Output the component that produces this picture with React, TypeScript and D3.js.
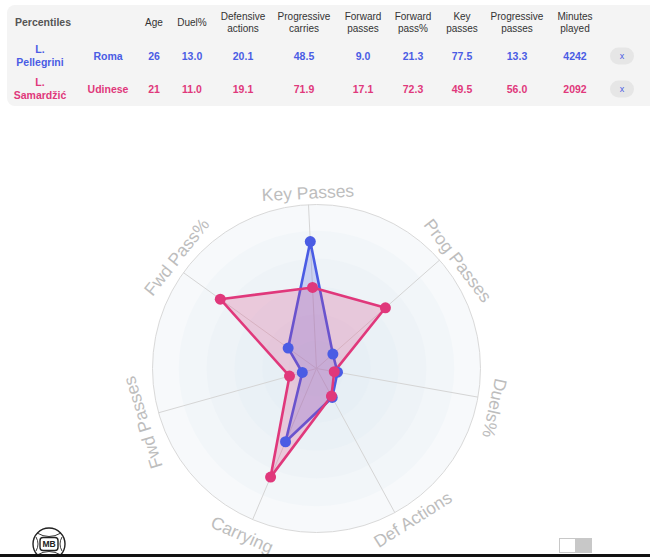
import React from "react";
import * as d3 from "d3";

const axes = ["Key Passes", "Prog Passes", "Duels%", "Def Actions", "Carrying", "Fwd Passes", "Fwd Pass%"];
const pellegrini = [77.5, 13.3, 13.0, 20.1, 48.5, 9.0, 21.3];
const samardzic = [49.5, 56.0, 11.0, 19.1, 71.9, 17.1, 72.3];

const headers = [["Age"], ["Duel%"], ["Defensive", "actions"], ["Progressive", "carries"], ["Forward", "passes"], ["Forward", "pass%"], ["Key", "passes"], ["Progressive", "passes"], ["Minutes", "played"]];
const headerX = [154, 192, 243, 304, 363, 413, 462, 517, 575];
const rowNames = [["L.", "Pellegrini"], ["L.", "Samardžić"]];
const rowTeams = ["Roma", "Udinese"];
const rowValues = [
  ["26", "13.0", "20.1", "48.5", "9.0", "21.3", "77.5", "13.3", "4242"],
  ["21", "11.0", "19.1", "71.9", "17.1", "72.3", "49.5", "56.0", "2092"],
];

const BLUE = "#4a5ce4";
const PINK = "#e0387b";
const FONT = "'Liberation Sans', Arial, Helvetica, sans-serif";

// label placement tweaks (angle shift in degrees, radius in % of scale)
const labelShift = [0, 4, 2.5, -4, 1.2, -1.6, 2.8];
const labelRadius = [107.3, 108.5, 111.3, 109.1, 111, 111, 109.1];

export default function App() {
  const cx = 316.5, cy = 368.5, R = 164;
  const offset = -2.8;
  const n = axes.length;
  const r = d3.scaleLinear().domain([0, 100]).range([0, R]);
  const angDeg = (i: number) => offset + (i * 360) / n;
  const pt = (i: number, v: number, extraDeg = 0) => {
    const a = ((angDeg(i) + extraDeg) * Math.PI) / 180;
    return [cx + r(v) * Math.sin(a), cy - r(v) * Math.cos(a)] as [number, number];
  };
  const line = d3.line<number>().x((v, i) => pt(i, v)[0]).y((v, i) => pt(i, v)[1]).curve(d3.curveLinearClosed);
  const bands = [
    { f: 1.0, c: "#f7f9fb" },
    { f: 0.84, c: "#f2f6f9" },
    { f: 0.67, c: "#eef3f7" },
    { f: 0.5, c: "#eaf1f6" },
    { f: 0.33, c: "#e7eff5" },
    { f: 0.17, c: "#e5edf4" },
  ];
  const rowY = [56, 89];
  const colors = [BLUE, PINK];

  const series = [
    { data: pellegrini, color: BLUE, fill: "rgba(74,92,228,0.22)" },
    { data: samardzic, color: PINK, fill: "rgba(224,56,123,0.22)" },
  ];

  return (
    <svg width={650} height={557} style={{ position: "absolute", left: 0, top: 0, background: "#fff" }} fontFamily={FONT}>
      {/* table */}
      <rect x={7} y={5} width={670} height={101} rx={8} fill="#f4f4f4" />
      <text x={15} y={22} dy="0.35em" fontSize={10.5} fontWeight="bold" fill="#555">Percentiles</text>
      {headers.map((h, i) =>
        h.length === 1 ? (
          <text key={i} x={headerX[i]} y={22} dy="0.35em" textAnchor="middle" fontSize={10} fill="#333">{h[0]}</text>
        ) : (
          <g key={i}>
            <text x={headerX[i]} y={16} dy="0.35em" textAnchor="middle" fontSize={10} fill="#333">{h[0]}</text>
            <text x={headerX[i]} y={28} dy="0.35em" textAnchor="middle" fontSize={10} fill="#333">{h[1]}</text>
          </g>
        )
      )}
      {rowValues.map((vals, ri) => (
        <g key={ri} fill={colors[ri]} fontWeight="bold" fontSize={10.5}>
          <text x={40} y={rowY[ri] - 7} dy="0.35em" textAnchor="middle">{rowNames[ri][0]}</text>
          <text x={40} y={rowY[ri] + 6} dy="0.35em" textAnchor="middle">{rowNames[ri][1]}</text>
          <text x={108} y={rowY[ri]} dy="0.35em" textAnchor="middle">{rowTeams[ri]}</text>
          {vals.map((v, i) => (
            <text key={i} x={headerX[i]} y={rowY[ri]} dy="0.35em" textAnchor="middle">{v}</text>
          ))}
          <rect x={610} y={rowY[ri] - 8.5} width={24} height={17} rx={8.5} fill="#e6e6e6" />
          <text x={622} y={rowY[ri]} dy="0.35em" textAnchor="middle" fontSize={9} fontWeight="normal" fill={BLUE}>x</text>
        </g>
      ))}

      {/* radar background */}
      {bands.map((b, i) => (
        <circle key={i} cx={cx} cy={cy} r={r(b.f * 100)} fill={b.c} />
      ))}
      <circle cx={cx} cy={cy} r={R} fill="none" stroke="#d9d9d9" strokeWidth={1} />
      {axes.map((a, i) => {
        const [x, y] = pt(i, 100);
        return <line key={i} x1={cx} y1={cy} x2={x} y2={y} stroke="#d5d5d5" strokeWidth={1} />;
      })}
      {axes.map((a, i) => {
        const th = angDeg(i);
        const shift = labelShift[i];
        const [x, y] = pt(i, labelRadius[i], shift);
        let rot = th + shift;
        if (th > 110 && th < 250) rot = th + shift - 180;
        else if (th > 180) rot = th + shift - 360;
        return (
          <text key={i} x={x} y={y} dy="0.35em" textAnchor="middle" fontSize={17.5} fill="#bdbdbd" transform={`rotate(${rot},${x},${y})`}>
            {a}
          </text>
        );
      })}

      {series.map((s, si) => (
        <g key={si}>
          <path d={line(s.data) || ""} fill={s.fill} stroke={s.color} strokeWidth={2.6} strokeLinejoin="round" />
        </g>
      ))}
      {series.map((s, si) => (
        <g key={"p" + si}>
          {s.data.map((v, i) => {
            const [x, y] = pt(i, v);
            return <circle key={i} cx={x} cy={y} r={5.5} fill={s.color} />;
          })}
        </g>
      ))}

      {/* logo */}
      <g stroke="#222" fill="none" strokeWidth={1.4}>
        <circle cx={49} cy={544} r={16} />
        <path d="M37,533 Q49,540 61,533" strokeWidth={0.9} />
        <path d="M37,555 Q49,548 61,555" strokeWidth={0.9} />
        <path d="M36,537 Q40,544 36,551" strokeWidth={0.9} />
        <path d="M62,537 Q58,544 62,551" strokeWidth={0.9} />
        <rect x={40} y={537.5} width={18} height={13} rx={3} fill="#fff" strokeWidth={1.4} />
      </g>
      <text x={49} y={544.5} dy="0.35em" textAnchor="middle" fontSize={8.5} fontWeight="bold" fill="#222">MB</text>

      {/* toggle */}
      <rect x={559} y={538} width={33} height={15} fill="#c8c8c8" />
      <rect x={560} y={539} width={15} height={13} fill="#fff" />

      {/* bottom line */}
      <rect x={0} y={554} width={650} height={3} fill="#111" />
    </svg>
  );
}
